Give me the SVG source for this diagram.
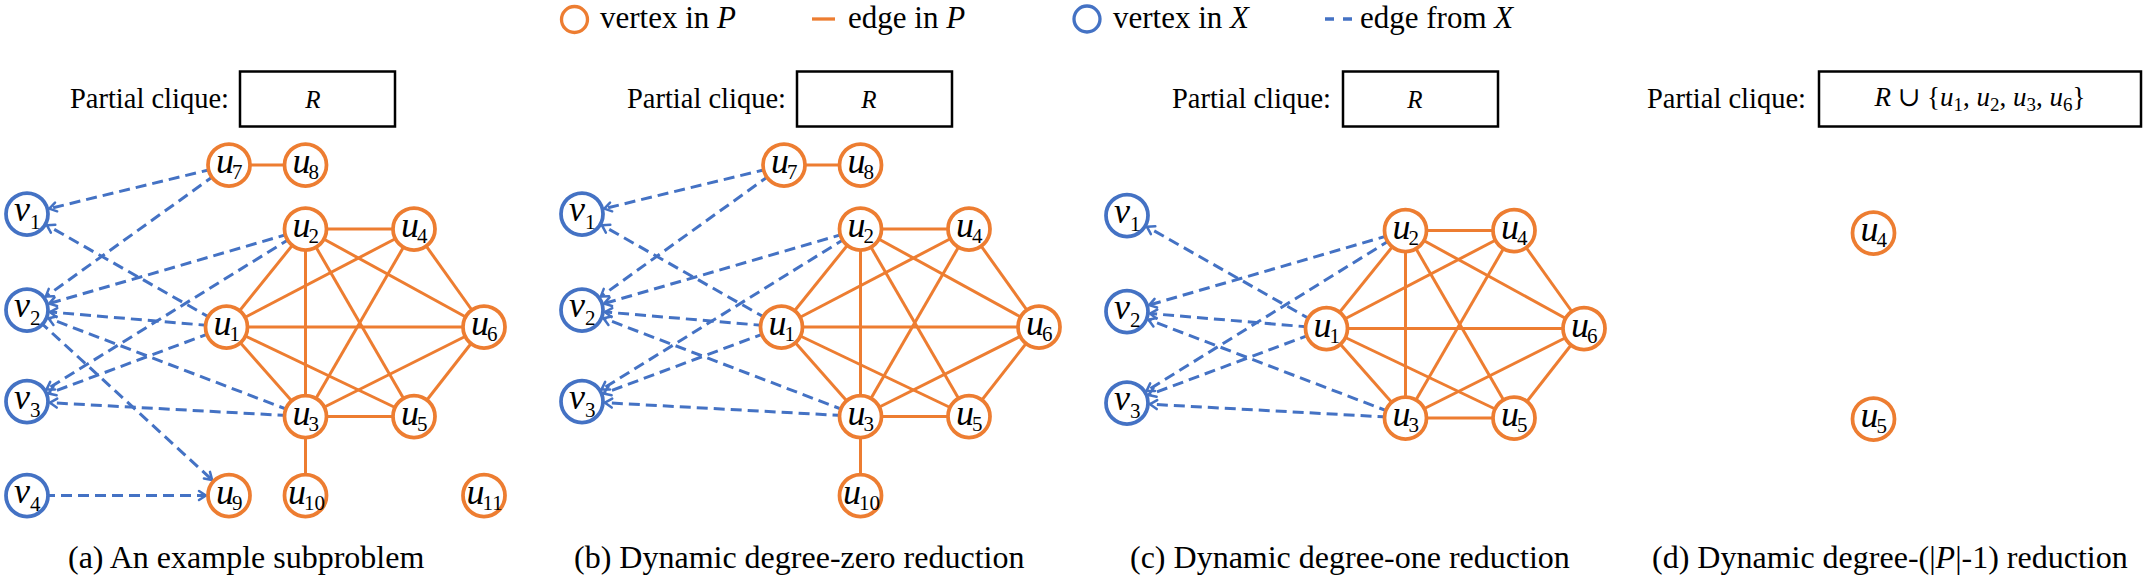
<svg xmlns="http://www.w3.org/2000/svg" width="2143" height="576" viewBox="0 0 2143 576" font-family="serif">
<defs>
<marker id="arr" markerUnits="userSpaceOnUse" markerWidth="14" markerHeight="14" viewBox="-12 -7 14 14" refX="0" refY="0" orient="auto">
<path d="M-7,-4.5 L0,0 L-7,4.5" fill="none" stroke="#4472C4" stroke-width="2.5" stroke-dasharray="none" stroke-linecap="round" stroke-linejoin="round"/>
</marker>
</defs>
<rect width="2143" height="576" fill="#fff"/>

<g id="legend">
<circle cx="574.5" cy="19.5" r="13" fill="#fff" stroke="#ED7D31" stroke-width="3.3"/>
<text x="600" y="28" font-family="serif" font-size="31">vertex in <tspan font-style="italic">P</tspan></text>
<line x1="812" y1="19" x2="835" y2="19" stroke="#ED7D31" stroke-width="3.3"/>
<text x="848" y="28" font-family="serif" font-size="31">edge in <tspan font-style="italic">P</tspan></text>
<circle cx="1087" cy="19" r="13" fill="#fff" stroke="#4472C4" stroke-width="3.3"/>
<text x="1113" y="28" font-family="serif" font-size="31">vertex in <tspan font-style="italic">X</tspan></text>
<line x1="1325" y1="19" x2="1353" y2="19" stroke="#4472C4" stroke-width="3.3" stroke-dasharray="9 9"/>
<text x="1360" y="28" font-family="serif" font-size="31">edge from <tspan font-style="italic">X</tspan></text>
</g>

<!-- Panel (a) -->
<g id="panel-a">
<text x="229" y="108" font-family="serif" font-size="28.5" text-anchor="end">Partial clique:</text>
<rect x="240" y="71.5" width="155" height="55" fill="none" stroke="#000" stroke-width="2.5"/>
<text x="313" y="108" text-anchor="middle" font-size="25" font-style="italic" font-family="serif">R</text>
<g id="a-connectors">
<g stroke="#ED7D31" stroke-width="3" fill="none">
<path d="M229,165 L305.5,165"/>
<path d="M305.5,229 L414,229"/>
<path d="M305.5,229 L226.5,327"/>
<path d="M305.5,229 L305.5,416.5"/>
<path d="M305.5,229 L414,416.5"/>
<path d="M305.5,229 L484,327"/>
<path d="M414,229 L226.5,327"/>
<path d="M414,229 L305.5,416.5"/>
<path d="M414,229 L484,327"/>
<path d="M226.5,327 L484,327"/>
<path d="M226.5,327 L305.5,416.5"/>
<path d="M226.5,327 L414,416.5"/>
<path d="M305.5,416.5 L414,416.5"/>
<path d="M305.5,416.5 L484,327"/>
<path d="M414,416.5 L484,327"/>
<path d="M305.5,416.5 L305.5,495.5"/>
</g>
<g stroke="#4472C4" stroke-width="3" stroke-dasharray="11 6" fill="none" marker-end="url(#arr)">
<path d="M229,165 L49.3,208.6"/>
<path d="M229,165 L45.7,296.6"/>
<path d="M226.5,327 L47,225.3"/>
<path d="M305.5,229 L49.1,303.6"/>
<path d="M226.5,327 L49.9,312"/>
<path d="M305.5,416.5 L48.5,318.2"/>
<path d="M27,310 L212.1,479.9"/>
<path d="M305.5,229 L46.6,389.4"/>
<path d="M226.5,327 L48.5,393.5"/>
<path d="M305.5,416.5 L50,402.7"/>
<path d="M27,495.5 L206,495.5"/>
</g>
</g>
<g id="a-v1"><circle cx="27" cy="214" r="21" fill="#fff" stroke="#4472C4" stroke-width="3.75"/><text x="14" y="221" font-family="serif" font-size="36" font-style="italic">v<tspan font-size="21" font-style="normal" dy="8">1</tspan></text></g>
<g id="a-v2"><circle cx="27" cy="310" r="21" fill="#fff" stroke="#4472C4" stroke-width="3.75"/><text x="14" y="317" font-family="serif" font-size="36" font-style="italic">v<tspan font-size="21" font-style="normal" dy="8">2</tspan></text></g>
<g id="a-v3"><circle cx="27" cy="401.5" r="21" fill="#fff" stroke="#4472C4" stroke-width="3.75"/><text x="14" y="408.5" font-family="serif" font-size="36" font-style="italic">v<tspan font-size="21" font-style="normal" dy="8">3</tspan></text></g>
<g id="a-v4"><circle cx="27" cy="495.5" r="21" fill="#fff" stroke="#4472C4" stroke-width="3.75"/><text x="14" y="502.5" font-family="serif" font-size="36" font-style="italic">v<tspan font-size="21" font-style="normal" dy="8">4</tspan></text></g>
<g id="a-u7"><circle cx="229" cy="165" r="21" fill="#fff" stroke="#ED7D31" stroke-width="3.75"/><text x="216" y="173" font-family="serif" font-size="36" font-style="italic">u<tspan font-size="21" font-style="normal" dx="-2" dy="6">7</tspan></text></g>
<g id="a-u8"><circle cx="305.5" cy="165" r="21" fill="#fff" stroke="#ED7D31" stroke-width="3.75"/><text x="292.5" y="173" font-family="serif" font-size="36" font-style="italic">u<tspan font-size="21" font-style="normal" dx="-2" dy="6">8</tspan></text></g>
<g id="a-u2"><circle cx="305.5" cy="229" r="21" fill="#fff" stroke="#ED7D31" stroke-width="3.75"/><text x="292.5" y="237" font-family="serif" font-size="36" font-style="italic">u<tspan font-size="21" font-style="normal" dx="-2" dy="6">2</tspan></text></g>
<g id="a-u4"><circle cx="414" cy="229" r="21" fill="#fff" stroke="#ED7D31" stroke-width="3.75"/><text x="401" y="237" font-family="serif" font-size="36" font-style="italic">u<tspan font-size="21" font-style="normal" dx="-2" dy="6">4</tspan></text></g>
<g id="a-u1"><circle cx="226.5" cy="327" r="21" fill="#fff" stroke="#ED7D31" stroke-width="3.75"/><text x="213.5" y="335" font-family="serif" font-size="36" font-style="italic">u<tspan font-size="21" font-style="normal" dx="-2" dy="6">1</tspan></text></g>
<g id="a-u6"><circle cx="484" cy="327" r="21" fill="#fff" stroke="#ED7D31" stroke-width="3.75"/><text x="471" y="335" font-family="serif" font-size="36" font-style="italic">u<tspan font-size="21" font-style="normal" dx="-2" dy="6">6</tspan></text></g>
<g id="a-u3"><circle cx="305.5" cy="416.5" r="21" fill="#fff" stroke="#ED7D31" stroke-width="3.75"/><text x="292.5" y="424.5" font-family="serif" font-size="36" font-style="italic">u<tspan font-size="21" font-style="normal" dx="-2" dy="6">3</tspan></text></g>
<g id="a-u5"><circle cx="414" cy="416.5" r="21" fill="#fff" stroke="#ED7D31" stroke-width="3.75"/><text x="401" y="424.5" font-family="serif" font-size="36" font-style="italic">u<tspan font-size="21" font-style="normal" dx="-2" dy="6">5</tspan></text></g>
<g id="a-u9"><circle cx="229" cy="495.5" r="21" fill="#fff" stroke="#ED7D31" stroke-width="3.75"/><text x="216" y="503.5" font-family="serif" font-size="36" font-style="italic">u<tspan font-size="21" font-style="normal" dx="-2" dy="6">9</tspan></text></g>
<g id="a-u10"><circle cx="305.5" cy="495.5" r="21" fill="#fff" stroke="#ED7D31" stroke-width="3.75"/><text x="288" y="503.5" font-family="serif" font-size="36" font-style="italic">u<tspan font-size="21" font-style="normal" dx="-2" dy="6">10</tspan></text></g>
<g id="a-u11"><circle cx="484" cy="495.5" r="21" fill="#fff" stroke="#ED7D31" stroke-width="3.75"/><text x="466.5" y="503.5" font-family="serif" font-size="36" font-style="italic">u<tspan font-size="21" font-style="normal" dx="-2" dy="6">11</tspan></text></g>
<text x="68" y="568" font-family="serif" font-size="32">(a) An example subproblem</text>
</g>

<!-- Panel (b) -->
<g id="panel-b">
<text x="786" y="108" font-family="serif" font-size="28.5" text-anchor="end">Partial clique:</text>
<rect x="797" y="71.5" width="155" height="55" fill="none" stroke="#000" stroke-width="2.5"/>
<text x="869" y="108" text-anchor="middle" font-size="25" font-style="italic" font-family="serif">R</text>
<g transform="translate(555,0)">
<g id="b-connectors">
<g stroke="#ED7D31" stroke-width="3" fill="none">
<path d="M229,165 L305.5,165"/>
<path d="M305.5,229 L414,229"/>
<path d="M305.5,229 L226.5,327"/>
<path d="M305.5,229 L305.5,416.5"/>
<path d="M305.5,229 L414,416.5"/>
<path d="M305.5,229 L484,327"/>
<path d="M414,229 L226.5,327"/>
<path d="M414,229 L305.5,416.5"/>
<path d="M414,229 L484,327"/>
<path d="M226.5,327 L484,327"/>
<path d="M226.5,327 L305.5,416.5"/>
<path d="M226.5,327 L414,416.5"/>
<path d="M305.5,416.5 L414,416.5"/>
<path d="M305.5,416.5 L484,327"/>
<path d="M414,416.5 L484,327"/>
<path d="M305.5,416.5 L305.5,495.5"/>
</g>
<g stroke="#4472C4" stroke-width="3" stroke-dasharray="11 6" fill="none" marker-end="url(#arr)">
<path d="M229,165 L49.3,208.6"/>
<path d="M229,165 L45.7,296.6"/>
<path d="M226.5,327 L47,225.3"/>
<path d="M305.5,229 L49.1,303.6"/>
<path d="M226.5,327 L49.9,312"/>
<path d="M305.5,416.5 L48.5,318.2"/>
<path d="M305.5,229 L46.6,389.4"/>
<path d="M226.5,327 L48.5,393.5"/>
<path d="M305.5,416.5 L50,402.7"/>
</g>
</g>
<g id="b-v1"><circle cx="27" cy="214" r="21" fill="#fff" stroke="#4472C4" stroke-width="3.75"/><text x="14" y="221" font-family="serif" font-size="36" font-style="italic">v<tspan font-size="21" font-style="normal" dy="8">1</tspan></text></g>
<g id="b-v2"><circle cx="27" cy="310" r="21" fill="#fff" stroke="#4472C4" stroke-width="3.75"/><text x="14" y="317" font-family="serif" font-size="36" font-style="italic">v<tspan font-size="21" font-style="normal" dy="8">2</tspan></text></g>
<g id="b-v3"><circle cx="27" cy="401.5" r="21" fill="#fff" stroke="#4472C4" stroke-width="3.75"/><text x="14" y="408.5" font-family="serif" font-size="36" font-style="italic">v<tspan font-size="21" font-style="normal" dy="8">3</tspan></text></g>
<g id="b-u7"><circle cx="229" cy="165" r="21" fill="#fff" stroke="#ED7D31" stroke-width="3.75"/><text x="216" y="173" font-family="serif" font-size="36" font-style="italic">u<tspan font-size="21" font-style="normal" dx="-2" dy="6">7</tspan></text></g>
<g id="b-u8"><circle cx="305.5" cy="165" r="21" fill="#fff" stroke="#ED7D31" stroke-width="3.75"/><text x="292.5" y="173" font-family="serif" font-size="36" font-style="italic">u<tspan font-size="21" font-style="normal" dx="-2" dy="6">8</tspan></text></g>
<g id="b-u2"><circle cx="305.5" cy="229" r="21" fill="#fff" stroke="#ED7D31" stroke-width="3.75"/><text x="292.5" y="237" font-family="serif" font-size="36" font-style="italic">u<tspan font-size="21" font-style="normal" dx="-2" dy="6">2</tspan></text></g>
<g id="b-u4"><circle cx="414" cy="229" r="21" fill="#fff" stroke="#ED7D31" stroke-width="3.75"/><text x="401" y="237" font-family="serif" font-size="36" font-style="italic">u<tspan font-size="21" font-style="normal" dx="-2" dy="6">4</tspan></text></g>
<g id="b-u1"><circle cx="226.5" cy="327" r="21" fill="#fff" stroke="#ED7D31" stroke-width="3.75"/><text x="213.5" y="335" font-family="serif" font-size="36" font-style="italic">u<tspan font-size="21" font-style="normal" dx="-2" dy="6">1</tspan></text></g>
<g id="b-u6"><circle cx="484" cy="327" r="21" fill="#fff" stroke="#ED7D31" stroke-width="3.75"/><text x="471" y="335" font-family="serif" font-size="36" font-style="italic">u<tspan font-size="21" font-style="normal" dx="-2" dy="6">6</tspan></text></g>
<g id="b-u3"><circle cx="305.5" cy="416.5" r="21" fill="#fff" stroke="#ED7D31" stroke-width="3.75"/><text x="292.5" y="424.5" font-family="serif" font-size="36" font-style="italic">u<tspan font-size="21" font-style="normal" dx="-2" dy="6">3</tspan></text></g>
<g id="b-u5"><circle cx="414" cy="416.5" r="21" fill="#fff" stroke="#ED7D31" stroke-width="3.75"/><text x="401" y="424.5" font-family="serif" font-size="36" font-style="italic">u<tspan font-size="21" font-style="normal" dx="-2" dy="6">5</tspan></text></g>
<g id="b-u10"><circle cx="305.5" cy="495.5" r="21" fill="#fff" stroke="#ED7D31" stroke-width="3.75"/><text x="288" y="503.5" font-family="serif" font-size="36" font-style="italic">u<tspan font-size="21" font-style="normal" dx="-2" dy="6">10</tspan></text></g>
</g>
<text x="574" y="568" font-family="serif" font-size="32">(b) Dynamic degree-zero reduction</text>
</g>

<!-- Panel (c) -->
<g id="panel-c">
<text x="1331" y="108" font-family="serif" font-size="28.5" text-anchor="end">Partial clique:</text>
<rect x="1343" y="71.5" width="155" height="55" fill="none" stroke="#000" stroke-width="2.5"/>
<text x="1415" y="108" text-anchor="middle" font-size="25" font-style="italic" font-family="serif">R</text>
<g transform="translate(1100,1.5)">
<g id="c-connectors">
<g stroke="#ED7D31" stroke-width="3" fill="none">
<path d="M305.5,229 L414,229"/>
<path d="M305.5,229 L226.5,327"/>
<path d="M305.5,229 L305.5,416.5"/>
<path d="M305.5,229 L414,416.5"/>
<path d="M305.5,229 L484,327"/>
<path d="M414,229 L226.5,327"/>
<path d="M414,229 L305.5,416.5"/>
<path d="M414,229 L484,327"/>
<path d="M226.5,327 L484,327"/>
<path d="M226.5,327 L305.5,416.5"/>
<path d="M226.5,327 L414,416.5"/>
<path d="M305.5,416.5 L414,416.5"/>
<path d="M305.5,416.5 L484,327"/>
<path d="M414,416.5 L484,327"/>
</g>
<g stroke="#4472C4" stroke-width="3" stroke-dasharray="11 6" fill="none" marker-end="url(#arr)">
<path d="M226.5,327 L47,225.3"/>
<path d="M305.5,229 L49.1,303.6"/>
<path d="M226.5,327 L49.9,312"/>
<path d="M305.5,416.5 L48.5,318.2"/>
<path d="M305.5,229 L46.6,389.4"/>
<path d="M226.5,327 L48.5,393.5"/>
<path d="M305.5,416.5 L50,402.7"/>
</g>
</g>
<g id="c-v1"><circle cx="27" cy="214" r="21" fill="#fff" stroke="#4472C4" stroke-width="3.75"/><text x="14" y="221" font-family="serif" font-size="36" font-style="italic">v<tspan font-size="21" font-style="normal" dy="8">1</tspan></text></g>
<g id="c-v2"><circle cx="27" cy="310" r="21" fill="#fff" stroke="#4472C4" stroke-width="3.75"/><text x="14" y="317" font-family="serif" font-size="36" font-style="italic">v<tspan font-size="21" font-style="normal" dy="8">2</tspan></text></g>
<g id="c-v3"><circle cx="27" cy="401.5" r="21" fill="#fff" stroke="#4472C4" stroke-width="3.75"/><text x="14" y="408.5" font-family="serif" font-size="36" font-style="italic">v<tspan font-size="21" font-style="normal" dy="8">3</tspan></text></g>
<g id="c-u2"><circle cx="305.5" cy="229" r="21" fill="#fff" stroke="#ED7D31" stroke-width="3.75"/><text x="292.5" y="237" font-family="serif" font-size="36" font-style="italic">u<tspan font-size="21" font-style="normal" dx="-2" dy="6">2</tspan></text></g>
<g id="c-u4"><circle cx="414" cy="229" r="21" fill="#fff" stroke="#ED7D31" stroke-width="3.75"/><text x="401" y="237" font-family="serif" font-size="36" font-style="italic">u<tspan font-size="21" font-style="normal" dx="-2" dy="6">4</tspan></text></g>
<g id="c-u1"><circle cx="226.5" cy="327" r="21" fill="#fff" stroke="#ED7D31" stroke-width="3.75"/><text x="213.5" y="335" font-family="serif" font-size="36" font-style="italic">u<tspan font-size="21" font-style="normal" dx="-2" dy="6">1</tspan></text></g>
<g id="c-u6"><circle cx="484" cy="327" r="21" fill="#fff" stroke="#ED7D31" stroke-width="3.75"/><text x="471" y="335" font-family="serif" font-size="36" font-style="italic">u<tspan font-size="21" font-style="normal" dx="-2" dy="6">6</tspan></text></g>
<g id="c-u3"><circle cx="305.5" cy="416.5" r="21" fill="#fff" stroke="#ED7D31" stroke-width="3.75"/><text x="292.5" y="424.5" font-family="serif" font-size="36" font-style="italic">u<tspan font-size="21" font-style="normal" dx="-2" dy="6">3</tspan></text></g>
<g id="c-u5"><circle cx="414" cy="416.5" r="21" fill="#fff" stroke="#ED7D31" stroke-width="3.75"/><text x="401" y="424.5" font-family="serif" font-size="36" font-style="italic">u<tspan font-size="21" font-style="normal" dx="-2" dy="6">5</tspan></text></g>
</g>
<text x="1130" y="568" font-family="serif" font-size="32">(c) Dynamic degree-one reduction</text>
</g>

<!-- Panel (d) -->
<g id="panel-d">
<text x="1806" y="108" font-family="serif" font-size="28.5" text-anchor="end">Partial clique:</text>
<rect x="1819" y="71.5" width="322" height="55" fill="none" stroke="#000" stroke-width="2.5"/>
<text x="1980" y="106" text-anchor="middle" font-family="serif" font-size="27"><tspan font-style="italic">R</tspan> <tspan font-family="DejaVu Serif">∪</tspan> {<tspan font-style="italic">u</tspan><tspan font-size="19" dy="5">1</tspan><tspan dy="-5">, </tspan><tspan font-style="italic">u</tspan><tspan font-size="19" dy="5">2</tspan><tspan dy="-5">, </tspan><tspan font-style="italic">u</tspan><tspan font-size="19" dy="5">3</tspan><tspan dy="-5">, </tspan><tspan font-style="italic">u</tspan><tspan font-size="19" dy="5">6</tspan><tspan dy="-5">}</tspan></text>
<g id="d-u4"><circle cx="1873.5" cy="233" r="21" fill="#fff" stroke="#ED7D31" stroke-width="3.75"/><text x="1860.5" y="241" font-family="serif" font-size="36" font-style="italic">u<tspan font-size="21" font-style="normal" dx="-2" dy="6">4</tspan></text></g>
<g id="d-u5"><circle cx="1873.5" cy="419" r="21" fill="#fff" stroke="#ED7D31" stroke-width="3.75"/><text x="1860.5" y="427" font-family="serif" font-size="36" font-style="italic">u<tspan font-size="21" font-style="normal" dx="-2" dy="6">5</tspan></text></g>
<text x="1652" y="568" font-family="serif" font-size="32">(d) Dynamic degree-(|<tspan font-style="italic">P</tspan>|-1) reduction</text>
</g>
</svg>
